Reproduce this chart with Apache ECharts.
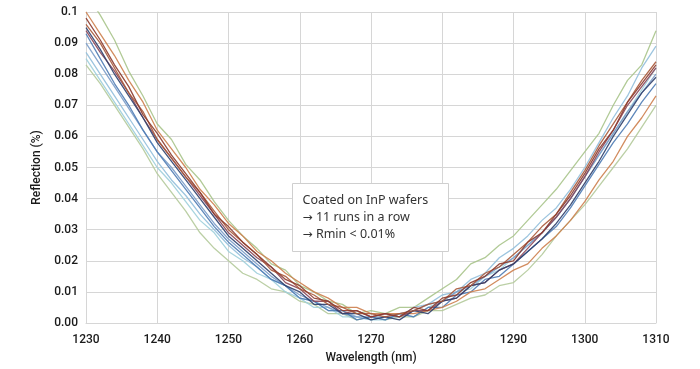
<!DOCTYPE html>
<html><head><meta charset="utf-8">
<script src="https://cdn.jsdelivr.net/npm/echarts@6/dist/echarts.min.js"></script>
<style>html,body{margin:0;padding:0;background:#fff}#c{width:700px;height:369px}</style>
</head><body><div id="c"></div>
<script>
const wavelengths = [1230,1232,1234,1236,1238,1240,1242,1244,1246,1248,1250,1252,1254,1256,1258,1260,1262,1264,1266,1268,1270,1272,1274,1276,1278,1280,1282,1284,1286,1288,1290,1292,1294,1296,1298,1300,1302,1304,1306,1308,1310];
const yTickLabels = ['0.00','0.01','0.02','0.03','0.04','0.05','0.06','0.07','0.08','0.09','0.1'];
const xTickLabels = ['1230','1240','1250','1260','1270','1280','1290','1300','1310'];
const noteTitle = 'Coated on InP wafers';
const noteItems = ['11 runs in a row','Rmin < 0.01%'];

const greenUp   = [0.106,0.099,0.091,0.081,0.073,0.064,0.059,0.051,0.046,0.039,0.033,0.028,0.024,0.019,0.017,0.012,0.010,0.007,0.006,0.003,0.004,0.003,0.005,0.005,0.008,0.011,0.014,0.019,0.021,0.025,0.028,0.033,0.038,0.043,0.049,0.055,0.061,0.070,0.078,0.083,0.094];
const greenLow  = [0.083,0.077,0.070,0.063,0.056,0.048,0.042,0.036,0.029,0.024,0.020,0.016,0.014,0.011,0.010,0.007,0.006,0.003,0.003,0.001,0.002,0.001,0.002,0.002,0.004,0.004,0.006,0.008,0.009,0.012,0.013,0.017,0.022,0.028,0.033,0.038,0.044,0.050,0.056,0.063,0.070];
const cyan      = [0.085,0.078,0.071,0.064,0.057,0.050,0.045,0.039,0.033,0.029,0.023,0.020,0.016,0.014,0.010,0.008,0.005,0.005,0.002,0.002,0.001,0.001,0.003,0.002,0.005,0.007,0.010,0.011,0.015,0.017,0.021,0.025,0.029,0.034,0.040,0.047,0.054,0.061,0.068,0.075,0.082];
const lightBlue = [0.087,0.080,0.073,0.066,0.059,0.052,0.046,0.041,0.035,0.030,0.025,0.021,0.018,0.014,0.012,0.008,0.007,0.004,0.004,0.002,0.001,0.002,0.002,0.005,0.006,0.009,0.010,0.014,0.016,0.021,0.024,0.028,0.033,0.037,0.043,0.050,0.058,0.066,0.073,0.082,0.089];
const medBlue   = [0.090,0.083,0.076,0.069,0.062,0.055,0.050,0.044,0.038,0.032,0.027,0.023,0.019,0.015,0.012,0.009,0.007,0.005,0.003,0.002,0.002,0.002,0.003,0.004,0.006,0.007,0.010,0.012,0.015,0.018,0.021,0.025,0.029,0.034,0.040,0.047,0.054,0.061,0.068,0.074,0.080];
const steelBlue = [0.093,0.085,0.077,0.070,0.062,0.055,0.049,0.043,0.037,0.031,0.026,0.022,0.018,0.014,0.012,0.008,0.007,0.004,0.004,0.001,0.002,0.001,0.003,0.002,0.005,0.005,0.009,0.010,0.014,0.015,0.019,0.023,0.027,0.031,0.037,0.044,0.051,0.058,0.064,0.071,0.077];
const orange    = [0.100,0.093,0.086,0.078,0.071,0.062,0.056,0.050,0.043,0.038,0.032,0.028,0.023,0.020,0.016,0.013,0.010,0.008,0.005,0.005,0.003,0.003,0.003,0.003,0.004,0.005,0.007,0.010,0.011,0.014,0.017,0.019,0.024,0.028,0.033,0.039,0.046,0.052,0.060,0.066,0.073];
const mauve     = [0.094,0.087,0.081,0.074,0.066,0.059,0.053,0.047,0.041,0.035,0.029,0.025,0.021,0.018,0.013,0.011,0.007,0.007,0.003,0.004,0.002,0.003,0.002,0.004,0.004,0.007,0.008,0.012,0.013,0.017,0.019,0.024,0.029,0.034,0.040,0.047,0.055,0.062,0.070,0.076,0.082];
const navy      = [0.095,0.088,0.080,0.073,0.066,0.058,0.052,0.046,0.040,0.034,0.028,0.024,0.020,0.016,0.012,0.010,0.006,0.006,0.003,0.003,0.001,0.002,0.001,0.004,0.003,0.007,0.008,0.012,0.013,0.017,0.019,0.023,0.027,0.032,0.038,0.045,0.052,0.060,0.067,0.074,0.079];
const brown     = [0.096,0.090,0.082,0.074,0.068,0.059,0.053,0.047,0.042,0.036,0.030,0.026,0.022,0.017,0.015,0.011,0.009,0.006,0.005,0.003,0.003,0.002,0.003,0.004,0.006,0.007,0.011,0.012,0.016,0.018,0.022,0.026,0.031,0.035,0.042,0.049,0.057,0.064,0.071,0.078,0.084];
const darkBrown = [0.098,0.091,0.083,0.076,0.067,0.061,0.054,0.048,0.042,0.035,0.031,0.026,0.022,0.018,0.014,0.012,0.008,0.007,0.004,0.004,0.002,0.003,0.002,0.005,0.004,0.008,0.009,0.013,0.015,0.019,0.020,0.026,0.029,0.035,0.041,0.048,0.056,0.062,0.071,0.077,0.083];

const runs = [
  {name:'Run 1', data:greenUp, color:'#a9c48b'},
  {name:'Run 2', data:greenLow, color:'#b4ca9b'},
  {name:'Run 3', data:cyan, color:'#9fcfdc'},
  {name:'Run 4', data:lightBlue, color:'#92bfdb'},
  {name:'Run 5', data:medBlue, color:'#7a9cc9'},
  {name:'Run 6', data:steelBlue, color:'#4e7bb4'},
  {name:'Run 7', data:orange, color:'#cd7f4e'},
  {name:'Run 8', data:mauve, color:'#8a4556'},
  {name:'Run 9', data:navy, color:'#2e3f6c'},
  {name:'Run 10', data:brown, color:'#a9593a'},
  {name:'Run 11', data:darkBrown, color:'#8c3a2c'}
];

const chart = echarts.init(document.getElementById('c'), null, {renderer:'canvas'});
const axisFont = {fontFamily:'Roboto', fontWeight:500, fontSize:12, color:'#1a1a1a'};
const noteFont = 'Noto Sans';
const richStyle = {
  a:{fontFamily:'DejaVu Sans', fontSize:12, fill:'#333', color:'#333'},
  t:{fontFamily:noteFont, fontSize:12.5, fill:'#333', color:'#333'}
};
chart.setOption({
  animation:false,
  backgroundColor:'#fff',
  grid:{left:86, right:44, top:12, bottom:44},
  xAxis:{
    type:'value', min:1230, max:1310, interval:10,
    name:'Wavelength (nm)', nameLocation:'middle', nameGap:29,
    nameTextStyle:{fontFamily:'Roboto', fontWeight:500, fontSize:12, color:'#1a1a1a'},
    axisLine:{show:true, lineStyle:{color:'#d6d6d6'}},
    axisTick:{show:false},
    axisLabel:Object.assign({margin:11, formatter:v=>xTickLabels[Math.round((v-1230)/10)]}, axisFont),
    splitLine:{show:true, lineStyle:{color:'#d6d6d6', width:1}}
  },
  yAxis:{
    type:'value', min:0, max:0.1, interval:0.01,
    name:'Reflection (%)', nameLocation:'middle', nameGap:41, nameRotate:90,
    nameTextStyle:{fontFamily:'Roboto', fontWeight:500, fontSize:12, color:'#1a1a1a'},
    axisLine:{show:true, lineStyle:{color:'#d6d6d6'}},
    axisTick:{show:false},
    axisLabel:Object.assign({margin:8, formatter:v=>yTickLabels[Math.round(v*100)]}, axisFont),
    splitLine:{show:true, lineStyle:{color:'#d6d6d6', width:1}}
  },
  series: runs.map(r=>({
    name:r.name, type:'line', showSymbol:false, symbol:'none', clip:true,
    data: wavelengths.map((w,i)=>[w, r.data[i]]),
    lineStyle:{color:r.color, width:1.3, opacity:0.9},
    itemStyle:{color:r.color}
  })),
  graphic:[{
    type:'group', left:292, top:183, z:100,
    children:[
      {type:'rect', z:100, shape:{x:0,y:0,width:156,height:68}, style:{fill:'#ffffff', stroke:'#cfcfcf', lineWidth:1}},
      {type:'text', z:101, x:10, y:17, style:{text:noteTitle, fontFamily:noteFont, fontSize:12.5, fill:'#333', verticalAlign:'middle'}},
      {type:'text', z:101, x:10, y:34, style:{text:'{a|\u2192} {t|'+noteItems[0]+'}', rich:richStyle, verticalAlign:'middle'}},
      {type:'text', z:101, x:10, y:51, style:{text:'{a|\u2192} {t|'+noteItems[1]+'}', rich:richStyle, verticalAlign:'middle'}}
    ]
  }]
});
</script></body></html>
